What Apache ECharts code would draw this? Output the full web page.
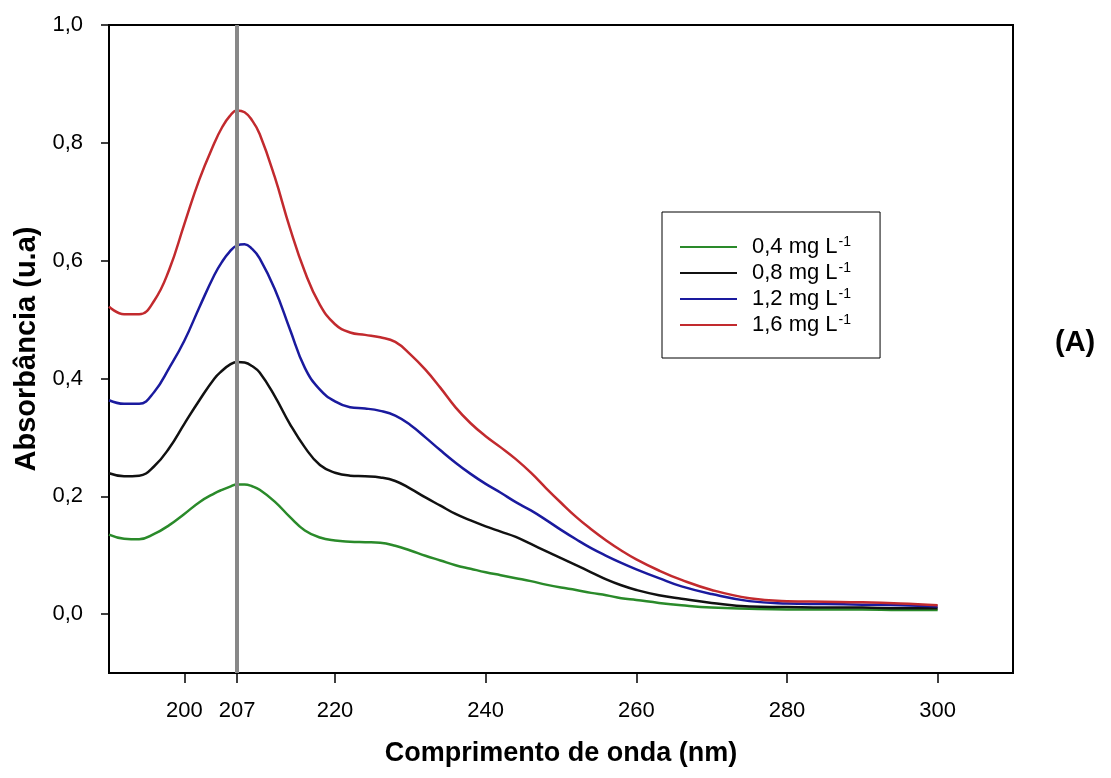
<!DOCTYPE html>
<html>
<head>
<meta charset="utf-8">
<script src="https://cdn.jsdelivr.net/npm/echarts@6/dist/echarts.min.js"></script>
<style>
html,body{margin:0;padding:0;background:#fff;}
#c{width:1111px;height:778px;}
</style>
</head>
<body>
<div id="c"></div>
<script>
const wavelengths = [190,192,194,196,198,200,202,204,205,206,207,208,209,210,212,214,216,218,220,222,224,226,228,230,232,234,236,238,240,242,244,246,248,250,252,254,256,258,260,263,266,270,275,280,285,290,295,300];
const abs04 = [0.135,0.128,0.127,0.136,0.151,0.170,0.190,0.205,0.211,0.216,0.220,0.220,0.217,0.211,0.191,0.165,0.142,0.130,0.125,0.123,0.122,0.121,0.116,0.108,0.099,0.091,0.083,0.077,0.071,0.066,0.061,0.056,0.050,0.045,0.041,0.036,0.032,0.027,0.024,0.019,0.015,0.011,0.009,0.008,0.008,0.008,0.007,0.007];
const abs08 = [0.239,0.234,0.235,0.251,0.282,0.323,0.363,0.400,0.413,0.423,0.428,0.427,0.421,0.410,0.370,0.323,0.283,0.253,0.240,0.235,0.234,0.232,0.226,0.213,0.198,0.184,0.170,0.159,0.149,0.140,0.131,0.119,0.107,0.095,0.083,0.071,0.059,0.049,0.041,0.032,0.026,0.019,0.013,0.012,0.011,0.011,0.010,0.010];
const abs12 = [0.363,0.357,0.357,0.377,0.418,0.464,0.521,0.576,0.598,0.615,0.626,0.628,0.620,0.604,0.552,0.484,0.418,0.381,0.361,0.351,0.349,0.345,0.337,0.321,0.300,0.278,0.257,0.238,0.221,0.206,0.190,0.176,0.160,0.143,0.127,0.112,0.099,0.087,0.076,0.061,0.047,0.034,0.022,0.018,0.017,0.016,0.015,0.013];
const abs16 = [0.522,0.509,0.509,0.532,0.585,0.662,0.738,0.800,0.826,0.845,0.855,0.852,0.838,0.815,0.742,0.656,0.581,0.525,0.492,0.478,0.474,0.470,0.462,0.441,0.415,0.384,0.351,0.324,0.302,0.283,0.263,0.240,0.214,0.189,0.165,0.144,0.125,0.108,0.093,0.074,0.058,0.041,0.027,0.022,0.021,0.020,0.018,0.015];
const seriesNames = ['0,4 mg L-1','0,8 mg L-1','1,2 mg L-1','1,6 mg L-1'];
const xTicks = [200,207,220,240,260,280,300];
const yTicks = [0,0.2,0.4,0.6,0.8,1.0];
const markWavelength = 207;

const colors = ['#2a8a2a','#111111','#1a1a9e','#c22a2e'];
const dataSets = [abs04, abs08, abs12, abs16];

const chart = echarts.init(document.getElementById('c'), null, {renderer:'canvas'});
const series = dataSets.map((d, i) => ({
  name: seriesNames[i],
  type: 'line',
  data: wavelengths.map((w, j) => [w, d[j]]),
  smooth: 0.45,
  symbol: 'none',
  lineStyle: {color: colors[i], width: 2.5},
  itemStyle: {color: colors[i]},
  z: 2
}));
series.push({
  type: 'line',
  data: [],
  silent: true,
  markLine: {
    silent: true,
    symbol: ['none','none'],
    label: {show: false},
    lineStyle: {color: '#888888', width: 4, type: 'solid'},
    data: [{xAxis: markWavelength}]
  },
  z: 5
});

chart.setOption({
  animation: false,
  backgroundColor: '#fff',
  grid: {left: 109, right: 98, top: 25, bottom: 105, show: true, borderColor: '#000', borderWidth: 2, backgroundColor: 'transparent'},
  legend: {
    data: seriesNames,
    orient: 'vertical',
    left: 662,
    top: 212,
    padding: [23, 29, 19, 18],
    itemGap: 0,
    itemWidth: 57,
    itemHeight: 2,
    icon: 'rect',
    borderColor: '#000',
    borderWidth: 1,
    backgroundColor: '#fff',
    formatter: n => '{t|' + n.slice(0, -2) + '}{s|-1}',
    textStyle: {
      padding: [0, 0, 0, 10],
      rich: {
        t: {fontFamily: 'Liberation Sans, Arial', fontSize: 22, color: '#000', lineHeight: 24},
        s: {fontFamily: 'Liberation Sans, Arial', fontSize: 14, color: '#000', lineHeight: 24, verticalAlign: 'top', padding: [0,0,12,1]}
      }
    }
  },
  xAxis: {
    type: 'value',
    min: 190,
    max: 310,
    name: 'Comprimento de onda (nm)',
    nameLocation: 'middle',
    nameGap: 67,
    nameTextStyle: {fontFamily: 'Liberation Sans, Arial', fontSize: 27, fontWeight: 'bold', color: '#000'},
    axisLine: {show: true, onZero: false, lineStyle: {color: '#000', width: 2}},
    axisTick: {show: true, inside: false, length: 10, lineStyle: {color: '#000', width: 1.5}, customValues: xTicks},
    axisLabel: {show: true, margin: 27, fontFamily: 'Liberation Sans, Arial', fontSize: 22, color: '#000', customValues: xTicks, formatter: v => String(v)},
    splitLine: {show: false}
  },
  yAxis: {
    type: 'value',
    min: -0.1,
    max: 1.0,
    name: 'Absorbância (u.a)',
    nameLocation: 'middle',
    nameGap: 64,
    nameTextStyle: {fontFamily: 'Liberation Sans, Arial', fontSize: 29, fontWeight: 'bold', color: '#000'},
    axisLine: {show: true, onZero: false, lineStyle: {color: '#000', width: 2}},
    axisTick: {show: true, inside: false, length: 8, lineStyle: {color: '#000', width: 1.5}, customValues: yTicks},
    axisLabel: {show: true, margin: 26, fontFamily: 'Liberation Sans, Arial', fontSize: 22, color: '#000', customValues: yTicks, formatter: v => v.toFixed(1).replace('.', ',')},
    splitLine: {show: false}
  },
  graphic: [{
    type: 'text',
    left: 1055,
    top: 328,
    style: {text: '(A)', fontFamily: 'Liberation Sans, Arial', fontSize: 29, fontWeight: 'bold', fill: '#000'}
  }],
  series: series
});
</script>
</body>
</html>
